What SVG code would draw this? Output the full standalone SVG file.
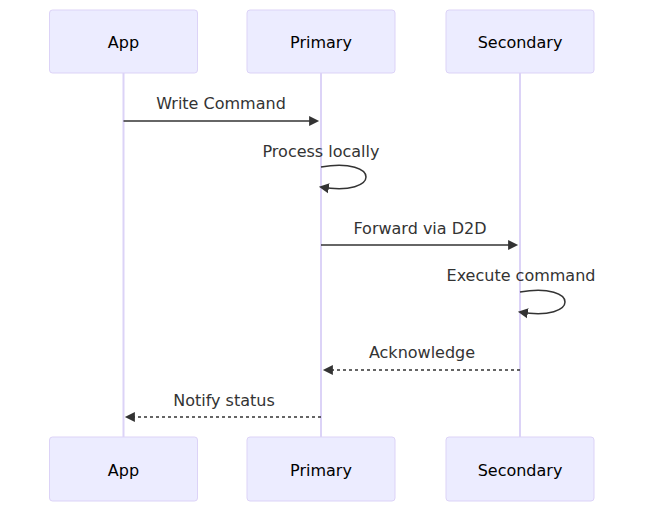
<svg xmlns="http://www.w3.org/2000/svg" width="653" height="519" viewBox="0 0 653 519">
<style>
.actor{fill:#ECECFF;stroke:#DCD3F7;stroke-width:1}
.atext{font-family:"DejaVu Sans",sans-serif;font-size:16px;fill:#000;text-anchor:middle;dominant-baseline:central}
.life{stroke:#DCD3F7;stroke-width:2;fill:none}
.msg{stroke:#333;stroke-width:1.5;fill:none}
.dash{stroke-dasharray:3,3}
.mtext{font-family:"DejaVu Sans",sans-serif;font-size:16px;fill:#333;text-anchor:middle;dominant-baseline:alphabetic}
</style>
<defs>
<marker id="arrow" viewBox="0 0 12 10" refX="7.9" refY="5" markerUnits="userSpaceOnUse" markerWidth="12" markerHeight="12" orient="auto-start-reverse">
<path d="M 0 0 L 10 5 L 0 10 z" fill="#333"/>
</marker>
</defs>
<g id="lifelines">
<line class="life" x1="123.5" y1="73" x2="123.5" y2="437"/>
<line class="life" x1="321" y1="73" x2="321" y2="437"/>
<line class="life" x1="520" y1="73" x2="520" y2="437"/>
</g>
<g id="App">
<rect class="actor" x="49.5" y="10" width="148" height="63" rx="3"/>
<text class="atext" x="123.5" y="42">App</text>
</g>
<g id="Primary">
<rect class="actor" x="247" y="10" width="148" height="63" rx="3"/>
<text class="atext" x="321" y="42">Primary</text>
</g>
<g id="Secondary">
<rect class="actor" x="446" y="10" width="148" height="63" rx="3"/>
<text class="atext" x="520" y="42">Secondary</text>
</g>
<g id="App_bottom">
<rect class="actor" x="49.5" y="437" width="148" height="64" rx="3"/>
<text class="atext" x="123.5" y="470">App</text>
</g>
<g id="Primary_bottom">
<rect class="actor" x="247" y="437" width="148" height="64" rx="3"/>
<text class="atext" x="321" y="470">Primary</text>
</g>
<g id="Secondary_bottom">
<rect class="actor" x="446" y="437" width="148" height="64" rx="3"/>
<text class="atext" x="520" y="470">Secondary</text>
</g>
<g id="connectors">
<text class="mtext" x="221" y="109">Write Command</text>
<line class="msg" x1="123.5" y1="121" x2="317" y2="121" marker-end="url(#arrow)"/>
<text class="mtext" x="321" y="157">Process locally</text>
<path class="msg" d="M 321,167 C 381,157 381,197 321,187" marker-end="url(#arrow)"/>
<text class="mtext" x="420" y="234">Forward via D2D</text>
<line class="msg" x1="321" y1="245" x2="516" y2="245" marker-end="url(#arrow)"/>
<text class="mtext" x="521" y="281">Execute command</text>
<path class="msg" d="M 520,292 C 580,282 580,322 520,312" marker-end="url(#arrow)"/>
<text class="mtext" x="422" y="358">Acknowledge</text>
<line class="msg dash" x1="520" y1="370" x2="325" y2="370" marker-end="url(#arrow)"/>
<text class="mtext" x="224" y="406">Notify status</text>
<line class="msg dash" x1="321" y1="417" x2="127" y2="417" marker-end="url(#arrow)"/>
</g>
</svg>
